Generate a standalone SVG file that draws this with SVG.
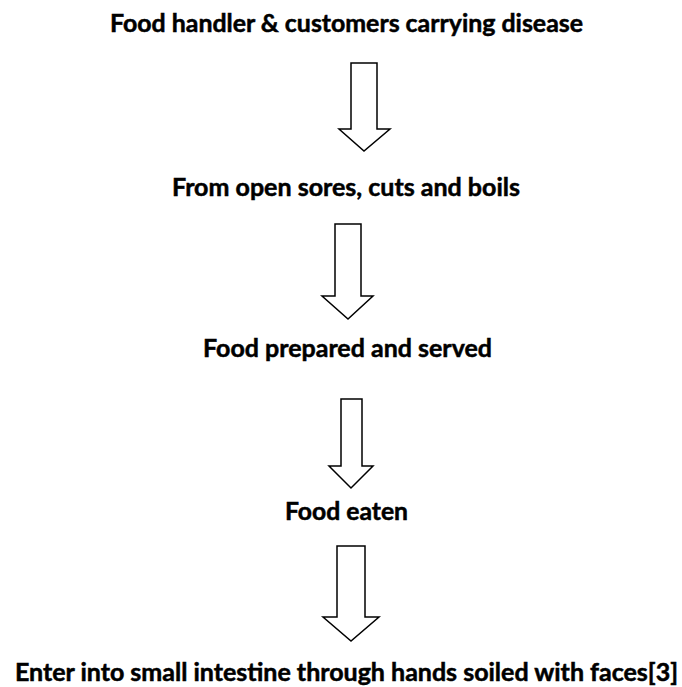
<svg xmlns="http://www.w3.org/2000/svg" width="682" height="687" viewBox="0 0 682 687">
<style>
.lbl{font-family:Lato,"Liberation Sans","DejaVu Sans",sans-serif;font-weight:700;font-size:24px;fill:#000;stroke:#000;stroke-width:0.5;text-anchor:middle}
.arr{fill:#fff;stroke:#000;stroke-width:1.5;stroke-linejoin:miter}
</style>
<rect width="682" height="687" fill="#fff"/>
<g id="node1"><text class="lbl" x="346.5" y="32" textLength="473" lengthAdjust="spacingAndGlyphs">Food handler &amp; customers carrying disease</text></g>
<g id="node2"><text class="lbl" x="346" y="196" textLength="348" lengthAdjust="spacingAndGlyphs">From open sores, cuts and boils</text></g>
<g id="node3"><text class="lbl" x="347.5" y="357" textLength="289" lengthAdjust="spacingAndGlyphs">Food prepared and served</text></g>
<g id="node4"><text class="lbl" x="346.5" y="520" textLength="123" lengthAdjust="spacingAndGlyphs">Food eaten</text></g>
<g id="node5"><text class="lbl" x="346.5" y="681" textLength="663" lengthAdjust="spacingAndGlyphs">Enter into small intestine through hands soiled with faces[3]</text></g>
<g id="connectors">
<polygon class="arr" points="351,63 377,63 377,129 390,129 364,151 339,129 351,129"/>
<polygon class="arr" points="335,224 361,224 361,296 373,296 348,319 322,296 335,296"/>
<polygon class="arr" points="341,399 362,399 362,466 373,466 351,488 329,466 341,466"/>
<polygon class="arr" points="337,546 365,546 365,617 379,617 351,641 323,617 337,617"/>
</g>
</svg>
